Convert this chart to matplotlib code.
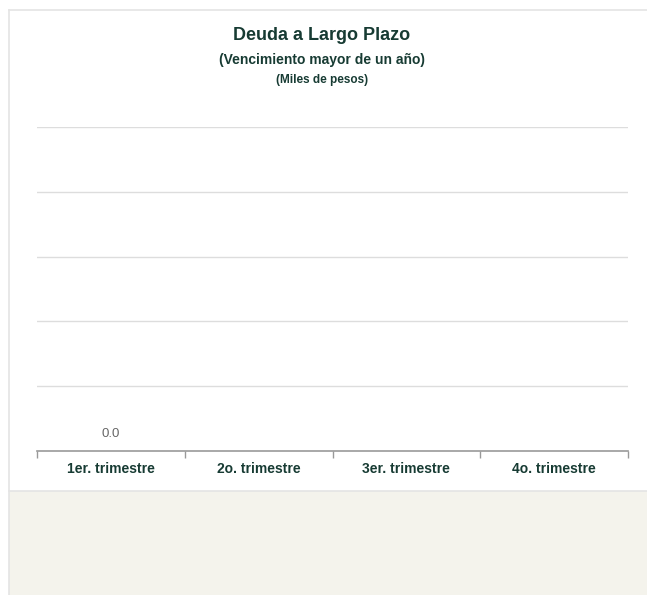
import numpy as np
import matplotlib.pyplot as plt
from matplotlib.patches import Rectangle

plt.rcParams['font.family'] = ['Liberation Sans', 'DejaVu Sans']

# Data
categories = ["1er. trimestre", "2o. trimestre", "3er. trimestre", "4o. trimestre"]
values = [0.0, np.nan, np.nan, np.nan]
y_max = 5
title = "Deuda a Largo Plazo"
subtitle = "(Vencimiento mayor de un año)"
units = "(Miles de pesos)"

W, H = 647, 595
fig = plt.figure(figsize=(W / 100, H / 100), dpi=100)
fig.patch.set_facecolor("white")

# panel backgrounds
fig.patches.append(Rectangle((9 / W, 0), 1, (H - 491) / H, transform=fig.transFigure,
                             facecolor="#F4F3EC", edgecolor="none", zorder=0))
fig.add_artist(plt.Line2D([9 / W, 9 / W], [0, 1 - 10 / H], color="#E4E4E4", lw=1.2))
fig.add_artist(plt.Line2D([9 / W, 1], [1 - 10 / H, 1 - 10 / H], color="#E4E4E4", lw=1.2))
fig.add_artist(plt.Line2D([9 / W, 1], [1 - 491 / H, 1 - 491 / H], color="#E4E4E4", lw=1.2))

# axes
left, right, top, bottom = 37, 628, 127, 451
ax = fig.add_axes([left / W, 1 - bottom / H, (right - left) / W, (bottom - top) / H])
ax.set_facecolor("none")

x = np.arange(len(categories))
vals = np.nan_to_num(values)
ax.bar(x, vals, width=0.6, color="#0E3B34")
for xi, v in zip(x, values):
    if not np.isnan(v):
        ax.annotate(f"{v:.1f}", (xi, v), xytext=(0, 8), textcoords="offset points",
                    ha="center", va="bottom", fontsize=9.5, color="#666666")

ax.set_xlim(-0.5, len(categories) - 0.5)
ax.set_ylim(0, y_max)
ax.set_yticks(np.arange(1, y_max + 1))
ax.yaxis.grid(True, color="#DDDDDD", lw=1)
ax.tick_params(axis="y", length=0, labelleft=False)
ax.set_axisbelow(True)

ax.set_xticks(np.arange(len(categories) + 1) - 0.5)
ax.set_xticklabels([])
ax.set_xticks(x, minor=True)
ax.set_xticklabels(categories, minor=True, fontsize=10, fontweight="bold", color="#173B33")
ax.tick_params(axis="x", which="major", length=5, color="#999999", width=1)
ax.tick_params(axis="x", which="minor", length=0, pad=8)

for s in ["top", "right", "left"]:
    ax.spines[s].set_visible(False)
ax.spines["bottom"].set_color("#999999")
ax.spines["bottom"].set_linewidth(1.2)

# titles
cx = 322 / W
fig.text(cx, 1 - 36 / H, title, ha="center", va="center", fontsize=13,
         fontweight="bold", color="#173B33")
fig.text(cx, 1 - 60 / H, subtitle, ha="center", va="center", fontsize=10,
         fontweight="bold", color="#173B33")
fig.text(cx, 1 - 80 / H, units, ha="center", va="center", fontsize=8.5,
         fontweight="bold", color="#173B33")

fig.savefig("out.png", dpi=100)
